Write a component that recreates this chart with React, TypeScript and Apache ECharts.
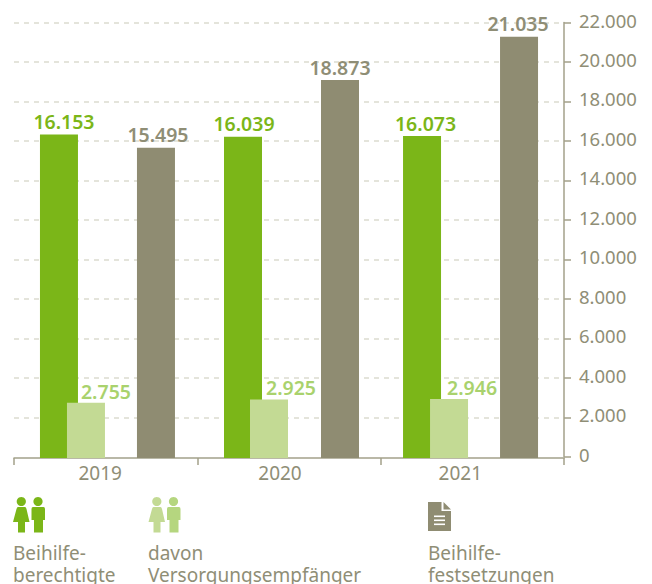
import React, { useEffect, useRef } from "react";
import * as echarts from "echarts";

const years = ["2019", "2020", "2021"];
const berechtigte = [16153, 16039, 16073];
const versorgung = [2755, 2925, 2946];
const festsetzungen = [15495, 18873, 21035];
const axisMax = 22000;
const axisStep = 2000;
const legendTexts = ["Beihilfe-\nberechtigte", "davon\nVersorgungsempfänger", "Beihilfe-\nfestsetzungen"];

const GREEN = "#7bb618";
const LIGHT = "#c3da94";
const LIGHT_TEXT = "#a9d26d";
const GRAY = "#8f8c72";
const TEXT = "#8f8e76";
const FONT = "'Noto Sans', sans-serif";

// the printed bars run on a slightly different scale from the printed axis
const BAR_AXIS_MAX = 21742;
const BAR_W = 38;

const fmt = (v: number) => String(v).replace(/\B(?=(\d{3})+(?!\d))/g, ".");

const personFemale = "M18 507 L25 507 Q26 507 26.5 509 L29.5 522 L25 522 L25 532.5 L18 532.5 L18 522 L13 522 L16.5 509 Q17 507 18 507 Z";
const personMale = "M33 507 L43.5 507 Q45 507 45 509 L45 520 L43 520 L43 532.5 L34 532.5 L34 520 L31.5 520 L31.5 509 Q31.5 507 33 507 Z";
const docBody = "M428 502 L441.5 502 L441.5 511 L451 511 L451 531 L428 531 Z";
const docEar = "M443.5 502 L451 509.5 L443.5 509.5 Z";
echarts.graphic.registerShape("female", echarts.graphic.extendPath(personFemale, {}) as any);
echarts.graphic.registerShape("male", echarts.graphic.extendPath(personMale, {}) as any);
echarts.graphic.registerShape("docBody", echarts.graphic.extendPath(docBody, {}) as any);
echarts.graphic.registerShape("docEar", echarts.graphic.extendPath(docEar, {}) as any);

function barSeries(values: number[], color: string, textColor: string, barShift: number[], labelShift: number[], gap: number, z: number) {
  return {
    type: "custom",
    xAxisIndex: 1,
    yAxisIndex: 1,
    z,
    clip: false,
    data: values.map((v, i) => [i, v]),
    encode: { x: 0, y: 1 },
    renderItem: (params: any, api: any) => {
      const i = api.value(0);
      const v = api.value(1);
      const top = api.coord([i, v]);
      const base = api.coord([i, 0]);
      const cx = top[0] + barShift[i];
      return {
        type: "group",
        children: [
          { type: "rect", shape: { x: cx - BAR_W / 2, y: top[1], width: BAR_W, height: base[1] - top[1] }, style: { fill: color } },
          {
            type: "text",
            z2: 10,
            style: {
              text: fmt(v), x: cx + labelShift[i], y: top[1] - gap,
              align: "center", verticalAlign: "middle",
              font: `600 19.5px ${FONT}`, fill: textColor,
            },
          },
        ],
      };
    },
  };
}

export default function App() {
  const ref = useRef<HTMLDivElement>(null);
  useEffect(() => {
    document.body.style.margin = "0";
    const chart = echarts.init(ref.current!, undefined, { renderer: "svg" });
    const legendText = (x: number, text: string) => ({
      type: "text", x, y: 542,
      style: { text, font: `19px ${FONT}`, fill: TEXT, lineHeight: 22 },
    });
    const yearStyle = (right: number) => ({
      padding: [0, right, 0, 0], fontFamily: "Noto Sans", fontSize: 19, color: TEXT,
    });
    chart.setOption({
      animation: false,
      grid: [
        { left: 14, right: 88, top: 22.5, height: 434.3 },
        { left: 14, right: 88, top: 22.5, height: 435.5 },
      ],
      xAxis: [
        { type: "category", gridIndex: 0, data: years, show: false },
        {
          type: "category", gridIndex: 1, data: years,
          axisLine: { lineStyle: { color: "#a3a18a", width: 1.5 } },
          axisTick: { show: true, length: 7, lineStyle: { color: "#a3a18a", width: 1.5 } },
          axisLabel: {
            margin: 5,
            formatter: (v: string) => `{${"y" + v}|${v}}`,
            rich: { y2019: yearStyle(11), y2020: yearStyle(18), y2021: yearStyle(24) },
          },
        },
      ],
      yAxis: [
        {
          type: "value", gridIndex: 0, position: "right", min: 0, max: axisMax, interval: axisStep,
          axisLine: { show: true, lineStyle: { color: "#a3a18a", width: 1.5 } },
          axisTick: { show: true, length: 7, lineStyle: { color: "#a3a18a", width: 1.5 } },
          axisLabel: {
            margin: 15,
            formatter: (v: number) => `{v|${fmt(v)}}`,
            rich: { v: { padding: [0, 0, 5, 0], fontFamily: "Noto Sans", fontSize: 18.5, color: TEXT } },
          },
          splitLine: { show: true, showMinLine: false, lineStyle: { color: "#dcdccf", width: 1.5, type: [5, 5] } },
        },
        { type: "value", gridIndex: 1, min: 0, max: BAR_AXIS_MAX, show: false },
      ],
      series: [
        barSeries(berechtigte, GREEN, GREEN, [-46.7, -46, -50.3], [5, 1, 3.5], 12.8, 3),
        barSeries(versorgung, LIGHT, LIGHT_TEXT, [-19.7, -20, -23.3], [20, 22, 23], 11.8, 4),
        barSeries(festsetzungen, GRAY, TEXT, [50.3, 51, 46.7], [2, 0, -1], 12.8, 5),
      ],
      graphic: [
        { type: "circle", shape: { cx: 21.3, cy: 501.5, r: 4.6 }, style: { fill: GREEN } },
        { type: "circle", shape: { cx: 38, cy: 501.5, r: 4.6 }, style: { fill: GREEN } },
        { type: "female", x: 0, y: 0, style: { fill: GREEN } },
        { type: "male", x: 0, y: 0, style: { fill: GREEN } },
        { type: "circle", shape: { cx: 156.8, cy: 501.5, r: 4.6 }, style: { fill: LIGHT } },
        { type: "circle", shape: { cx: 173.5, cy: 501.5, r: 4.6 }, style: { fill: "#b5d67f" } },
        { type: "female", x: 135.5, y: 0, style: { fill: LIGHT } },
        { type: "male", x: 135.5, y: 0, style: { fill: "#b5d67f" } },
        { type: "docBody", x: 0, y: 0, style: { fill: GRAY } },
        { type: "docEar", x: 0, y: 0, style: { fill: GRAY } },
        { type: "rect", shape: { x: 434, y: 515.5, width: 11, height: 1.6 }, style: { fill: "#fff" } },
        { type: "rect", shape: { x: 434, y: 519.5, width: 11, height: 1.6 }, style: { fill: "#fff" } },
        { type: "rect", shape: { x: 434, y: 523.5, width: 11, height: 1.6 }, style: { fill: "#fff" } },
        legendText(13, legendTexts[0]),
        legendText(148, legendTexts[1]),
        legendText(428, legendTexts[2]),
      ],
    });
    return () => chart.dispose();
  }, []);
  return <div ref={ref} style={{ width: 652, height: 584 }} />;
}
